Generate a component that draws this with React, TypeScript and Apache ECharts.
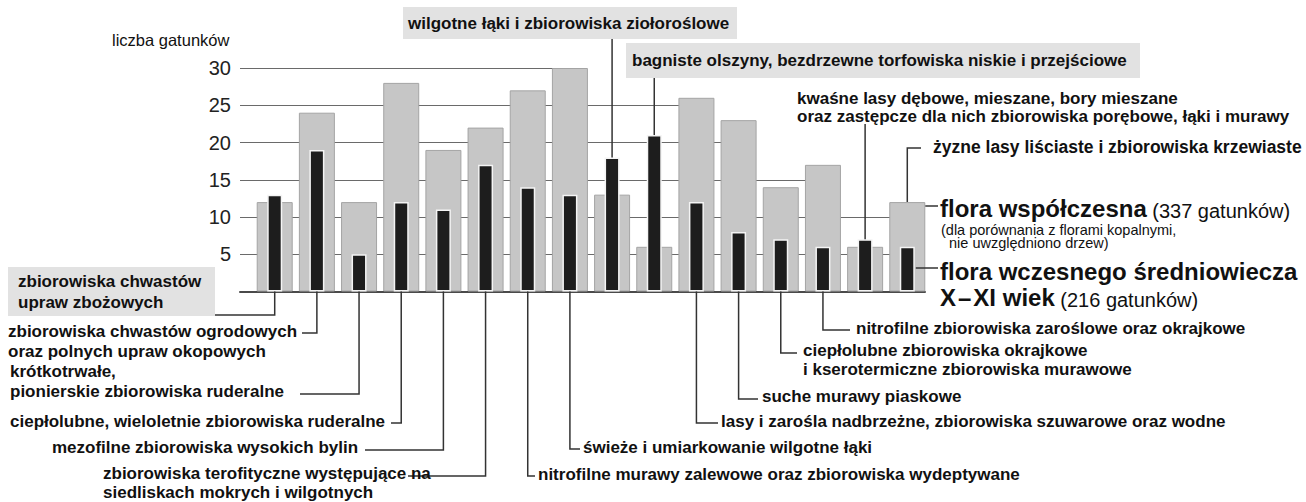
import React, { useEffect, useRef } from "react";
import * as echarts from "echarts";

// ---------- data ----------
const categories = [
  "zbiorowiska chwastów\nupraw zbożowych",
  "zbiorowiska chwastów ogrodowych\noraz polnych upraw okopowych",
  "krótkotrwałe,\npionierskie zbiorowiska ruderalne",
  "ciepłolubne, wieloletnie zbiorowiska ruderalne",
  "mezofilne zbiorowiska wysokich bylin",
  "zbiorowiska terofityczne występujące na\nsiedliskach mokrych i wilgotnych",
  "nitrofilne murawy zalewowe oraz zbiorowiska wydeptywane",
  "świeże i umiarkowanie wilgotne łąki",
  "wilgotne łąki i zbiorowiska ziołoroślowe",
  "bagniste olszyny, bezdrzewne torfowiska niskie i przejściowe",
  "lasy i zarośla nadbrzeżne, zbiorowiska szuwarowe oraz wodne",
  "suche murawy piaskowe",
  "ciepłolubne zbiorowiska okrajkowe\ni kserotermiczne zbiorowiska murawowe",
  "nitrofilne zbiorowiska zaroślowe oraz okrajkowe",
  "kwaśne lasy dębowe, mieszane, bory mieszane\noraz zastępcze dla nich zbiorowiska porębowe, łąki i murawy",
  "żyzne lasy liściaste i zbiorowiska krzewiaste",
];
const modernCounts = [12, 24, 12, 28, 19, 22, 27, 30, 13, 6, 26, 23, 14, 17, 6, 12];
const medievalCounts = [13, 19, 5, 12, 11, 17, 14, 13, 18, 21, 12, 8, 7, 6, 7, 6];
const yTicks = [5, 10, 15, 20, 25, 30];
// category index under which each horizontal grid line ends
const gridLineEnds = [15, 15, 13, 11, 10, 7];

const modernName = "flora współczesna";
const modernNote = "(337 gatunków)";
const modernSub = "(dla porównania z florami kopalnymi,";
const modernSub2 = "nie uwzględniono drzew)";
const medievalName = "flora wczesnego średniowiecza";
const medievalAge = "X\u200a–\u200aXI wiek";
const medievalNote = "(216 gatunków)";
const yAxisTitle = "liczba gatunków";

// ---------- layout / style ----------
const FONT = "'Liberation Sans', Arial, Helvetica, sans-serif";
const X_MIN = -0.823;
const X_MAX = 15.42;
const GREY_W = 36;
const BLACK_W = 15;
const LABEL_FS = 17;
const TXT = "#111";
const LEADER = "#333";
const BOX = "#e2e2e2";

type Lab = {
  kind: "left" | "right" | "top" | "side";
  x: number;
  y: number; // top of the text block
  lh: number;
  lx: number; // leader end x (near text)
  ly: number; // leader y (horizontal part) or box bottom for top labels
  hit?: "modern" | "medieval";
  box?: [number, number, number, number];
  fs?: number;
};

const labelLayout: Lab[] = [
  { kind: "left", x: 18, y: 270.5, lh: 21, lx: 215, ly: 315, box: [8, 267, 207, 49] },
  { kind: "left", x: 8, y: 321, lh: 20, lx: 302, ly: 333 },
  { kind: "left", x: 10, y: 361.5, lh: 20, lx: 300, ly: 394 },
  { kind: "left", x: 10, y: 411, lh: 20, lx: 391, ly: 423 },
  { kind: "left", x: 52, y: 437.5, lh: 20, lx: 365, ly: 450 },
  { kind: "left", x: 103, y: 464, lh: 19, lx: 408, ly: 476 },
  { kind: "right", x: 538, y: 464, lh: 20, lx: 535, ly: 476 },
  { kind: "right", x: 583, y: 437, lh: 20, lx: 580, ly: 449 },
  { kind: "top", x: 408, y: 13, lh: 20, lx: 0, ly: 39, hit: "medieval", box: [403, 7, 334, 32] },
  { kind: "top", x: 632, y: 50.5, lh: 20, lx: 0, ly: 78, hit: "medieval", box: [626, 43, 514, 35] },
  { kind: "right", x: 721, y: 411, lh: 20, lx: 718, ly: 423 },
  { kind: "right", x: 762, y: 386.5, lh: 20, lx: 758, ly: 399 },
  { kind: "right", x: 803, y: 341, lh: 19, lx: 797, ly: 353 },
  { kind: "right", x: 856, y: 318, lh: 20, lx: 850, ly: 330 },
  { kind: "top", x: 797, y: 89, lh: 18, lx: 0, ly: 124, hit: "medieval" },
  { kind: "side", x: 933, y: 137, lh: 20, lx: 921, ly: 148, hit: "modern", fs: 17.5 },
];

export default function App() {
  const ref = useRef<HTMLDivElement>(null);

  useEffect(() => {
    if (!ref.current) return;
    const chart = echarts.init(ref.current, undefined, { renderer: "svg" });

    const xAxisBase = {
      type: "value" as const,
      min: X_MIN,
      max: X_MAX,
      axisTick: { show: false },
      axisLabel: { show: false },
      splitLine: { show: false },
    };

    chart.setOption({
      animation: false,
      backgroundColor: "#ffffff",
      grid: { left: 240, right: 381, top: 68, bottom: 210.5 },
      xAxis: [
        { ...xAxisBase, axisLine: { show: true, lineStyle: { color: "#4a4a4a", width: 2 } } },
        { ...xAxisBase, show: false },
      ],
      yAxis: {
        type: "value",
        min: 0,
        max: 30,
        interval: 5,
        axisLine: { show: false },
        axisTick: { show: false },
        splitLine: { show: false },
        axisLabel: {
          fontSize: 20,
          fontFamily: FONT,
          color: "#222",
          margin: 9,
          padding: [5, 0, 0, 0],
          formatter: (v: number) => (v === 0 ? "" : String(v)),
        },
      },
      series: [
        {
          type: "lines",
          coordinateSystem: "cartesian2d",
          xAxisIndex: 0,
          yAxisIndex: 0,
          silent: true,
          z: 1,
          lineStyle: { color: "#6a6a6a", width: 1, opacity: 1 },
          data: yTicks.map((v, k) => ({ coords: [[X_MIN, v], [gridLineEnds[k], v]] })),
        },
        {
          name: modernName,
          type: "bar",
          xAxisIndex: 0,
          yAxisIndex: 0,
          z: 2,
          barWidth: GREY_W,
          itemStyle: { color: "#c6c6c6", borderColor: "#a4a4a4", borderWidth: 1 },
          data: modernCounts.map((v, i) => [i, v]),
        },
        {
          name: medievalName,
          type: "bar",
          xAxisIndex: 1,
          yAxisIndex: 0,
          z: 3,
          barWidth: BLACK_W,
          itemStyle: { color: "#1d1d1d", borderColor: "#f4f4f4", borderWidth: 1.5 },
          data: medievalCounts.map((v, i) => [i, v]),
        },
      ],
    });

    const px = (i: number, v: number) =>
      chart.convertToPixel({ xAxisIndex: 0, yAxisIndex: 0 }, [i, v]) as number[];

    const graphics: any[] = [];
    const leader = (points: number[][]) =>
      graphics.push({
        type: "polyline",
        z: 20,
        silent: true,
        shape: { points },
        style: { stroke: LEADER, lineWidth: 1.5, fill: null },
      });
    const text = (x: number, y: number, t: string, extra: any = {}) =>
      graphics.push({
        type: "text",
        z: 21,
        silent: true,
        x,
        y,
        style: {
          text: t,
          fill: TXT,
          fontSize: LABEL_FS,
          fontWeight: "bold",
          fontFamily: FONT,
          verticalAlign: "top",
          align: "left",
          ...extra,
        },
      });

    labelLayout.forEach((lab, i) => {
      const [bx, y0] = px(i, 0);
      if (lab.box) {
        const [rx, ry, rw, rh] = lab.box;
        graphics.push({
          type: "rect",
          z: 19,
          silent: true,
          shape: { x: rx, y: ry, width: rw, height: rh },
          style: { fill: BOX },
        });
      }
      if (lab.kind === "left") {
        leader([[lab.lx, lab.ly], [bx, lab.ly], [bx, y0]]);
      } else if (lab.kind === "right") {
        leader([[bx, y0], [bx, lab.ly], [lab.lx, lab.ly]]);
      } else if (lab.kind === "top") {
        const v = lab.hit === "modern" ? modernCounts[i] : medievalCounts[i];
        const [, ty] = px(i, v);
        leader([[bx, lab.ly], [bx, ty]]);
      } else {
        const v = lab.hit === "modern" ? modernCounts[i] : medievalCounts[i];
        const [, ty] = px(i, v);
        leader([[lab.lx, lab.ly], [bx, lab.ly], [bx, ty]]);
      }
      text(lab.x, lab.y, categories[i], { lineHeight: lab.lh, fontSize: lab.fs || LABEL_FS });
    });

    // legend block (right side)
    const last = modernCounts.length - 1;
    const [lbx] = px(last, 0);
    leader([[lbx + GREY_W / 2, 206], [938, 206]]);
    leader([[lbx + BLACK_W / 2 + 1, 268], [938, 268]]);

    const rich = {
      b: { fontSize: 24, lineHeight: 25, fontWeight: "bold", fontFamily: FONT, fill: TXT, verticalAlign: "bottom" },
      n: { fontSize: 20, lineHeight: 21, fontFamily: FONT, fill: TXT, verticalAlign: "bottom" },
    };
    graphics.push({
      type: "text",
      z: 21,
      silent: true,
      x: 940,
      y: 208,
      style: { text: `{b|${modernName}}{n| ${modernNote}}`, rich, verticalAlign: "middle" },
    });
    text(941, 223, `${modernSub}\n  ${modernSub2}`, {
      fontWeight: "normal",
      fontSize: 14.5,
      lineHeight: 13.5,
    });
    text(940, 271, medievalName, { fontSize: 24, verticalAlign: "middle" });
    graphics.push({
      type: "text",
      z: 21,
      silent: true,
      x: 940,
      y: 297,
      style: { text: `{b|${medievalAge}}{n| ${medievalNote}}`, rich, verticalAlign: "middle" },
    });

    // y axis title
    text(112, 40, yAxisTitle, { fontWeight: "normal", fontSize: 16.5, verticalAlign: "middle" });

    chart.setOption({ graphic: { elements: graphics } });

    return () => chart.dispose();
  }, []);

  return (
    <div
      ref={ref}
      style={{ position: "absolute", left: 0, top: 0, width: 1306, height: 502, background: "#fff" }}
    />
  );
}
